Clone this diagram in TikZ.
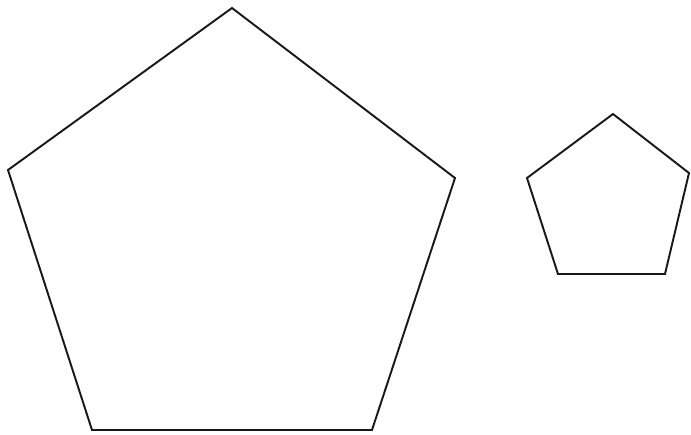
\documentclass[tikz,border=0pt]{standalone}
\usepackage{tikz}
\tikzset{
  pentaline/.style={draw=black!90, line width=1.1pt, line join=miter}
}
\begin{document}
\begin{tikzpicture}[x=0.02cm, y=-0.02cm]
\useasboundingbox (0,0) rectangle (691,434);
% large pentagon
\coordinate (bigtop) at (232,8);
\coordinate (bigright) at (455,178);
\coordinate (bigbr) at (372,430);
\coordinate (bigbl) at (92,430);
\coordinate (bigleft) at (8,170);
\draw[pentaline] (bigtop) -- (bigright) -- (bigbr) -- (bigbl) -- (bigleft) -- cycle;
% small pentagon
\coordinate (smalltop) at (613,114);
\coordinate (smallright) at (689,173);
\coordinate (smallbr) at (665,274);
\coordinate (smallbl) at (558,274);
\coordinate (smallleft) at (527,178);
\draw[pentaline] (smalltop) -- (smallright) -- (smallbr) -- (smallbl) -- (smallleft) -- cycle;
\end{tikzpicture}
\end{document}
